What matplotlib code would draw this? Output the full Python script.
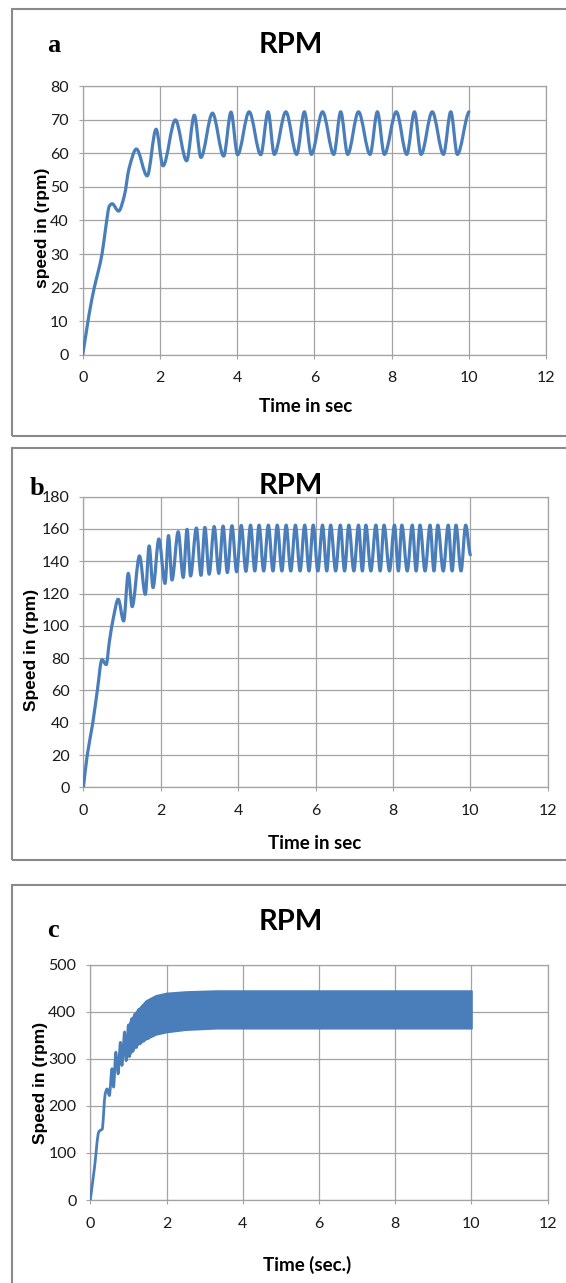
import numpy as np
import matplotlib
matplotlib.use("Agg")
import matplotlib.pyplot as plt
from matplotlib.path import Path
from matplotlib.patches import PathPatch, Rectangle

# --- panel a: speed response, extrema and bends of the trace ---
t_a = [0, 0.09, 0.17, 0.30, 0.41, 0.50, 0.60, 0.69, 0.76, 0.93, 1.08, 1.20, 1.39,
       1.67, 1.90, 2.08, 2.40, 2.69, 2.89, 3.06, 3.36, 3.65, 3.84, 4.01, 4.31,
       4.61, 4.80, 4.96, 5.26, 5.54, 5.74, 5.92, 6.21, 6.50, 6.68, 6.86, 7.14,
       7.44, 7.63, 7.81, 8.12, 8.39, 8.59, 8.76, 9.05, 9.34, 9.53, 9.70, 10.0]
rpm_a = [0, 6.5, 12.3, 20, 25.2, 30, 38.2, 44.3, 45, 42.8, 47.5, 55.5, 61.3,
         53.3, 67.2, 56.3, 70, 57.8, 71.4, 58.8, 72, 59.2, 72.3, 59.6, 72.4,
         59.6, 72.4, 59.7, 72.4, 59.7, 72.4, 59.7, 72.4, 59.7, 72.4, 59.7, 72.4,
         59.7, 72.4, 59.7, 72.4, 59.7, 72.4, 59.7, 72.4, 59.7, 72.4, 59.7, 72.4]

# --- panel b ---
t_b = [0, 0.10, 0.24, 0.36, 0.48, 0.59, 0.67, 0.78, 0.90, 1.04, 1.16, 1.26, 1.45,
       1.60, 1.70, 1.80, 1.95, 2.11, 2.20, 2.29, 2.45, 2.58, 2.68, 2.77, 2.92,
       3.04, 3.14, 3.25, 3.38, 3.50, 3.61, 3.72, 3.84, 3.96, 4.08, 4.20, 4.32,
       4.43, 4.54, 4.66, 4.78, 4.90, 5.01, 5.13, 5.24, 5.36, 5.48, 5.60, 5.72,
       5.83, 5.94, 6.06, 6.18, 6.29, 6.39, 6.52, 6.64, 6.75, 6.86, 6.99, 7.11,
       7.21, 7.30, 7.43, 7.56, 7.67, 7.77, 7.91, 8.04, 8.14, 8.23, 8.37, 8.50,
       8.60, 8.70, 8.83, 8.96, 9.06, 9.16, 9.30, 9.43, 9.53, 9.63, 9.76, 9.88,
       10.0]
rpm_b = [0, 20, 39.5, 60, 79, 76, 90, 105.6, 116.5, 103, 132.5, 111.9, 143.3,
         119.5, 149.5, 123.7, 153.8, 126.3, 155.9, 128.4, 158.3, 130, 159.8, 130.9, 160.6,
         131.3, 161, 132, 161.5, 132.5, 161.8, 133, 162, 133.5, 162.2, 133.8, 162.4,
         134, 162.4, 134, 162.4, 134, 162.4, 134, 162.4, 134, 162.4, 134, 162.4,
         134, 162.4, 134, 162.4, 134, 162.4, 134, 162.4, 134, 162.4, 134, 162.4,
         134, 162.4, 134, 162.4, 134, 162.4, 134, 162.4, 134, 162.4, 134, 162.4,
         134, 162.4, 134, 162.4, 134, 162.4, 134, 162.4, 134, 162.4, 134, 162.4,
         144]

# --- panel c: start-up trace, then the dense oscillation band ---
t_c = [0, 0.11, 0.22, 0.26, 0.31, 0.39, 0.44, 0.50, 0.57, 0.61, 0.67, 0.73,
       0.79, 0.83, 0.90, 0.94, 1.00, 1.03, 1.08, 1.12, 1.17, 1.21, 1.27, 1.31,
       1.37, 1.41, 1.48, 1.52]
rpm_c = [0, 69, 144, 148, 150, 225, 236, 222, 279, 240, 314, 268,
         335, 286, 357, 296, 372, 305, 385, 316, 395, 324, 405, 332,
         412, 338, 420, 343]
t_band = [1.00, 1.07, 1.20, 1.46, 1.72, 2.00, 2.50, 3.30, 10.0]
band_lo = [305, 314, 328, 342, 352, 357, 362, 365, 365]
band_hi = [372, 385, 401, 424, 435, 440, 443, 445, 445]

x_ticks = [0, 2, 4, 6, 8, 10, 12]

LINE = "#4a7ebb"
GRID = "#a3a3a3"
W, H = 566, 1283
NARROW = ["Lato", "DejaVu Sans"]


def fx(x):
    return x / W


def fy(y):
    return 1 - y / H


def smooth_trace(ax, t, v, lw=2.3):
    # cubic Hermite segments through the readings, drawn as Bezier curves
    t = np.asarray(t, float)
    v = np.asarray(v, float)
    n = len(t)
    m = np.zeros(n)
    for i in range(1, n - 1):
        d0 = (v[i] - v[i - 1]) / (t[i] - t[i - 1])
        d1 = (v[i + 1] - v[i]) / (t[i + 1] - t[i])
        m[i] = 0 if d0 * d1 <= 0 else 2 / (1 / d0 + 1 / d1)
    m[0] = (v[1] - v[0]) / (t[1] - t[0])
    m[-1] = (v[-1] - v[-2]) / (t[-1] - t[-2]) * 0.3
    verts = [(t[0], v[0])]
    codes = [Path.MOVETO]
    for i in range(n - 1):
        h = t[i + 1] - t[i]
        verts += [(t[i] + h / 3, v[i] + m[i] * h / 3),
                  (t[i + 1] - h / 3, v[i + 1] - m[i + 1] * h / 3),
                  (t[i + 1], v[i + 1])]
        codes += [Path.CURVE4] * 3
    ax.add_patch(PathPatch(Path(verts, codes), facecolor="none", edgecolor=LINE,
                           lw=lw, capstyle="round", joinstyle="round", zorder=3))


def style_axes(ax, ymax, ystep):
    ax.set_xlim(0, 12)
    ax.set_ylim(0, ymax)
    ax.set_xticks(x_ticks)
    ax.set_yticks(np.arange(0, ymax + 1, ystep))
    ax.grid(True, color=GRID, lw=0.9)
    ax.set_axisbelow(True)
    for s in ax.spines.values():
        s.set_color(GRID)
        s.set_linewidth(0.9)
    ax.tick_params(axis="both", length=3, color=GRID, labelsize=11.5,
                   labelcolor="#1a1a1a")
    ax.tick_params(axis="x", pad=9)
    ax.tick_params(axis="y", pad=7)
    for lab in ax.get_xticklabels() + ax.get_yticklabels():
        lab.set_family(NARROW)


def panel_text(fig, letter, lpos, title_y, xlabel, xpos, ylabel, ypos):
    fig.text(fx(lpos[0]), fy(lpos[1]), letter, family=["Liberation Serif", "DejaVu Serif"],
             fontweight="bold", fontsize=19, ha="center", va="center")
    fig.text(fx(290.6), fy(title_y), "RPM", family=NARROW, fontweight="bold",
             fontsize=21, ha="center", va="center", zorder=-1)
    fig.text(fx(xpos[0]), fy(xpos[1]), xlabel, family=NARROW, fontweight="bold",
             fontsize=13.5, ha="center", va="center")
    fig.text(fx(ypos[0]), fy(ypos[1]), ylabel, family=["Liberation Sans", "DejaVu Sans"],
             fontweight="bold", fontsize=12.5, ha="center", va="center", rotation=90)


fig = plt.figure(figsize=(W / 100, H / 100), dpi=100)

# outer frames around each panel
for top, bottom in [(9.3, 435.7), (448.3, 860), (885, 1300)]:
    fig.patches.append(Rectangle((fx(11.5), fy(bottom)), 1.2, (bottom - top) / H,
                                 transform=fig.transFigure, fill=False,
                                 edgecolor="#8a8a8a", lw=1.5, zorder=-2))

ax_a = fig.add_axes([fx(82.7), fy(354.7), (546.2 - 82.7) / W, (354.7 - 86.3) / H])
ax_b = fig.add_axes([fx(83.4), fy(787.3), (547.7 - 83.4) / W, (787.3 - 496.7) / H])
ax_c = fig.add_axes([fx(90.3), fy(1200), (547.7 - 90.3) / W, (1200 - 964.7) / H])

style_axes(ax_a, 80, 10)
smooth_trace(ax_a, t_a, rpm_a)

style_axes(ax_b, 180, 20)
smooth_trace(ax_b, t_b, rpm_b)

style_axes(ax_c, 500, 100)
smooth_trace(ax_c, t_c, rpm_c, lw=2.0)
ax_c.fill_between(t_band, band_lo, band_hi, color=LINE, lw=1.2, edgecolor=LINE, zorder=3)

panel_text(fig, "a", (53.4, 45), 45, "Time in sec", (306, 406.7),
           "speed in (rpm)", (42.2, 228.3))
panel_text(fig, "b", (36.5, 488.3), 486, "Time in sec", (315, 843.3),
           "Speed in (rpm)", (31.8, 650))
panel_text(fig, "c", (53.4, 930.7), 921.7, "Time (sec.)", (306.9, 1265),
           "Speed in (rpm)", (40.4, 1083.3))

fig.savefig("out.png", dpi=100)
